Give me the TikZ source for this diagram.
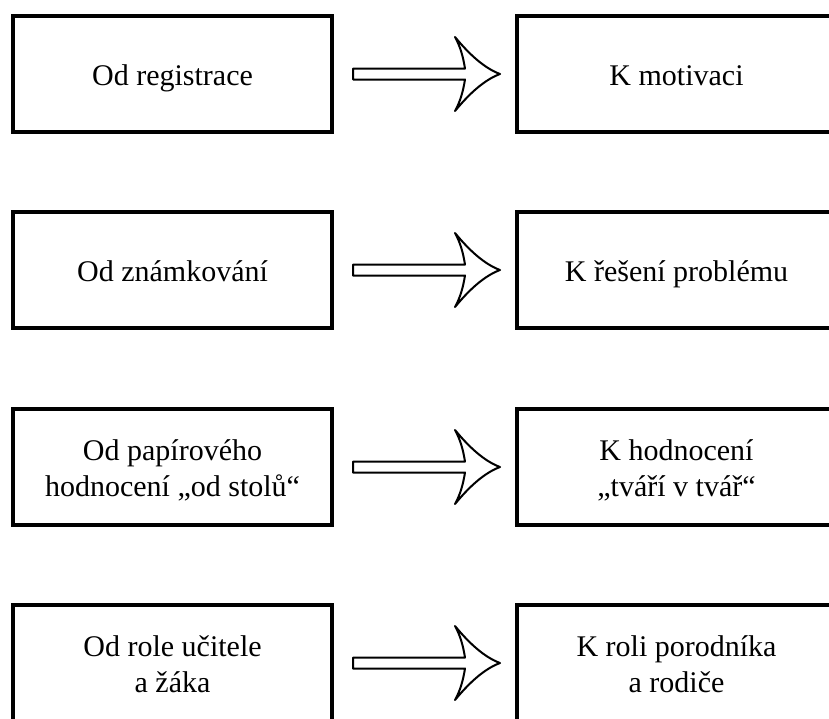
\documentclass[tikz,border=0pt]{standalone}
\usepackage{fontspec}
\setmainfont{Liberation Serif}
\usepackage{tikz}
\usetikzlibrary{calc, positioning}

\tikzset{
    ramec/.style={draw, line width=2pt, minimum width=159.5pt, minimum height=58pt,
        inner sep=0pt, align=center, font=\fontsize{15}{18}\selectfont,
        execute at begin node=\rule{0pt}{16.6pt}, execute at end node=\strut},
    jeden/.style={},
    dva/.style={execute at begin node=\rule{0pt}{34.6pt}},
    sipka/.style={line width=1pt, line join=round}
}

\begin{document}
\begin{tikzpicture}[x=0.5pt, y=-0.5pt]
                % 1. Okraje obrázku
                \clip (0,0) rectangle (829,718);
                
                % 2. Rámečky "od" a "k"
                \foreach \i/\y/\s/\od/\k in {1/74/jeden/{Od registrace}/{K motivaci},
                        2/270/jeden/{Od známkování}/{K řešení problému},
                        3/467/dva/{Od papírového\\hodnocení „od stolů“}/{K hodnocení\\„tváří v tvář“},
                        4/663/dva/{Od role učitele\\a žáka}/{K roli porodníka\\a rodiče}} {
                    \node[ramec, \s] (od\i) at (172.5,\y) {\od};
                    \node[ramec, \s] (k\i) at (676.5,\y) {\k};
                    
                    % 3. Šipka mezi rámečky
                    \draw[sipka, shift={(od\i.east)}]
                        (19,-5.5) -- (131,-5.5)
                        .. controls (129,-18) and (126,-28) .. (121,-37)
                        .. controls (135,-20) and (150,-6) .. (166,0)
                        .. controls (150,6) and (135,20) .. (121,37)
                        .. controls (126,28) and (129,18) .. (131,5.5)
                        -- (19,5.5) -- cycle;
                }
            \end{tikzpicture}
\end{document}
